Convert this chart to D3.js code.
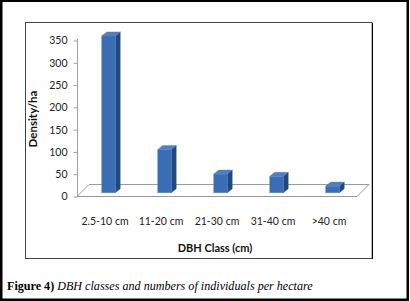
<!DOCTYPE html>
<html><head><meta charset="utf-8">
<script src="https://cdn.jsdelivr.net/npm/d3@7"></script>
<style>html,body{margin:0;padding:0;background:#fff;}svg{display:block;}</style>
</head><body>
<svg id="c" width="410" height="301"></svg>
<script>
const categories = ["2.5-10 cm", "11-20 cm", "21-30 cm", "31-40 cm", ">40 cm"];
const densities = [352, 97, 42, 37, 15];
const yTicks = [0, 50, 100, 150, 200, 250, 300, 350];
const yTitle = "Density/ha";
const xTitle = "DBH Class (cm)";
const captionBold = "Figure 4)";
const captionItalic = "DBH classes and numbers of individuals per hectare";

const svg = d3.select("#c");
const sans = "Lato, 'Open Sans', sans-serif";
const serif = "'Liberation Serif', 'DejaVu Serif', serif";

// outer frame
svg.append("rect").attr("x", 1.25).attr("y", 0.75).attr("width", 406.5).attr("height", 299)
  .attr("fill", "none").attr("stroke", "#000").attr("stroke-width", 2.5);

// chart box
svg.append("rect").attr("x", 25.5).attr("y", 22.5).attr("width", 346.5).attr("height", 236)
  .attr("fill", "#fff").attr("stroke", "#444").attr("stroke-width", 1);
svg.append("line").attr("x1", 372.5).attr("x2", 372.5).attr("y1", 23).attr("y2", 259)
  .attr("stroke", "#000").attr("stroke-width", 1);
svg.append("line").attr("x1", 371.5).attr("x2", 371.5).attr("y1", 23).attr("y2", 258)
  .attr("stroke", "#bbb").attr("stroke-width", 1);

const x = d3.scaleBand().domain(categories).range([77, 357]);
const y = d3.scaleLinear().domain([0, 350]).range([196.5, 40.5]);

const depthX = 12, depthY = 12;   // floor depth
const offX = 3.5, offY = 3.7;      // bar front offset into floor
const barDX = 5, barDY = 4;        // bar depth
const bw = x.bandwidth() * 0.24;

// floor
const f0 = y(0);
svg.append("polygon")
  .attr("points", [[77, f0], [77 + depthX, f0 - depthY], [357 + depthX, f0 - depthY], [357, f0]].map(p => p.join(",")).join(" "))
  .attr("fill", "#fff").attr("stroke", "#9a9a9a").attr("stroke-width", 1);

// y axis
const ax = svg.append("g").attr("transform", "translate(77.5,0)")
  .call(d3.axisLeft(y).tickValues(yTicks).tickSize(4).tickSizeOuter(0).tickPadding(6));
ax.select(".domain").attr("stroke", "#a0a0a0").attr("d", `M0,${y(0)}V${y(350) - 2}`);
ax.selectAll(".tick line").attr("stroke", "#a0a0a0");
ax.selectAll(".tick text").attr("font-family", sans).attr("font-size", 10.5).attr("fill", "#222");

// bars
const bars = svg.append("g");
categories.forEach((c, i) => {
  const v = densities[i];
  const x0 = x(c) + (x.bandwidth() - bw) / 2 + offX;
  const x1 = x0 + bw;
  const yb = y(0) - offY;
  const yt = y(v) - offY;
  bars.append("polygon")
    .attr("points", [[x1, yb], [x1, yt], [x1 + barDX, yt - barDY], [x1 + barDX, yb - barDY]].map(p => p.join(",")).join(" "))
    .attr("fill", "#24477c").attr("stroke", "#24477c").attr("stroke-width", 0.4);
  bars.append("polygon")
    .attr("points", [[x0, yt], [x0 + barDX, yt - barDY], [x1 + barDX, yt - barDY], [x1, yt]].map(p => p.join(",")).join(" "))
    .attr("fill", "#4d7fc2").attr("stroke", "#4d7fc2").attr("stroke-width", 0.4);
  bars.append("rect").attr("x", x0).attr("y", yt).attr("width", bw).attr("height", yb - yt)
    .attr("fill", "#3a6db3").attr("stroke", "#5a8ccc").attr("stroke-width", 0.5);
});

// category labels
svg.append("g").selectAll("text").data(categories).join("text")
  .attr("x", d => x(d) + x.bandwidth() / 2).attr("y", 225)
  .attr("text-anchor", "middle").attr("font-family", sans).attr("font-size", 10.5).attr("fill", "#222")
  .text(d => d);

// axis titles
svg.append("text").attr("x", 215).attr("y", 251.5)
  .attr("text-anchor", "middle").attr("font-family", sans).attr("font-weight", "bold")
  .attr("font-size", 11).attr("fill", "#111").text(xTitle);
svg.append("text").attr("transform", "translate(37,119) rotate(-90)")
  .attr("text-anchor", "middle").attr("font-family", sans).attr("font-weight", "bold")
  .attr("font-size", 11.5).attr("fill", "#111").text(yTitle);

// caption
const cap = svg.append("text").attr("x", 0).attr("y", 0)
  .attr("font-family", serif).attr("font-size", 12).attr("fill", "#000");
cap.append("tspan").attr("font-weight", "bold").text(captionBold + " ");
cap.append("tspan").attr("font-style", "italic").text(captionItalic);
const cw = cap.node().getComputedTextLength();
const sx = Math.min(1.3, 306 / cw);
cap.attr("transform", `translate(7,289.5) scale(${sx},1)`);
</script>
</body></html>
